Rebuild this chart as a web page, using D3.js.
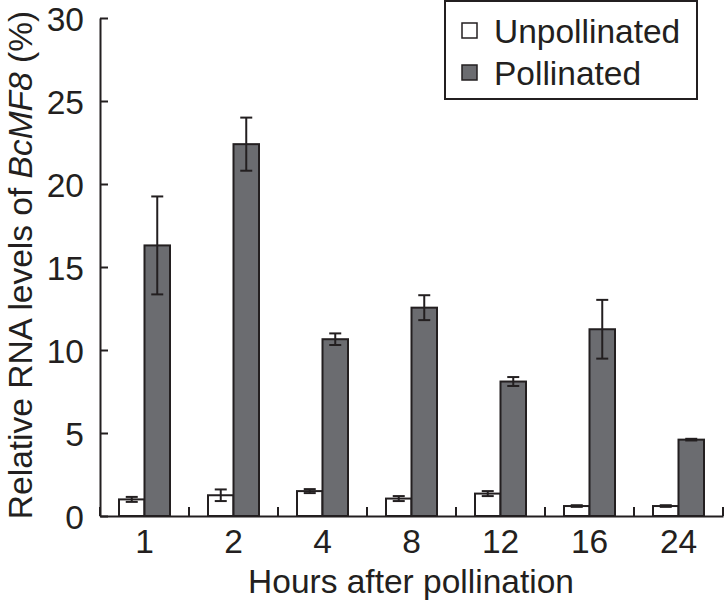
<!DOCTYPE html>
<html><head><meta charset="utf-8">
<script src="https://cdn.jsdelivr.net/npm/d3@7"></script>
<style>body{margin:0;background:#fff}svg{display:block}text{font-family:"Liberation Sans",Arial,Helvetica,sans-serif;fill:#231f20}</style>
</head><body><svg id="c" width="724" height="601"></svg>
<script>
const categories = ["1","2","4","8","12","16","24"];
const unpollinated = [1.0, 1.25, 1.5, 1.05, 1.35, 0.6, 0.6];
const unpollinatedErr = [0.15, 0.35, 0.12, 0.15, 0.15, 0.05, 0.05];
const pollinated = [16.3, 22.4, 10.65, 12.55, 8.1, 11.25, 4.6];
const pollinatedErr = [2.95, 1.6, 0.35, 0.75, 0.27, 1.77, 0.05];
const yTicks = [0,5,10,15,20,25,30];
const seriesNames = ["Unpollinated","Pollinated"];
const seriesColors = ["#ffffff","#6b6c70"];
const ink = "#231f20";
const fs = 33.5;

const svg = d3.select("#c");
const x = d3.scaleBand().domain(categories).range([100, 723]).padding(0);
const y = d3.scaleLinear().domain([0,30]).range([516, 18]);
const barW = 25.5;

// bars
const data = [];
categories.forEach((c,i)=>{
  data.push({c, s:0, v:unpollinated[i], e:unpollinatedErr[i]});
  data.push({c, s:1, v:pollinated[i], e:pollinatedErr[i]});
});
const bx = d => x(d.c) + x.bandwidth()/2 + (d.s===0 ? -barW : 0);
svg.selectAll("rect.bar").data(data).join("rect").attr("class","bar")
  .attr("x", bx).attr("width", barW)
  .attr("y", d=>y(d.v)).attr("height", d=>y(0)-y(d.v))
  .attr("fill", d=>seriesColors[d.s]).attr("stroke", ink).attr("stroke-width", 2);

// error bars
const eg = svg.append("g").attr("stroke", ink).attr("stroke-width", 2).attr("fill","none");
data.forEach(d=>{
  const cx = bx(d) + barW/2;
  const capW = 12;
  eg.append("line").attr("x1",cx).attr("x2",cx).attr("y1",y(d.v+d.e)).attr("y2",y(d.v-d.e));
  eg.append("line").attr("x1",cx-capW/2).attr("x2",cx+capW/2).attr("y1",y(d.v+d.e)).attr("y2",y(d.v+d.e));
  eg.append("line").attr("x1",cx-capW/2).attr("x2",cx+capW/2).attr("y1",y(d.v-d.e)).attr("y2",y(d.v-d.e));
});

// y axis
const yAxis = d3.axisLeft(y).tickValues(yTicks).tickSizeInner(-8).tickSizeOuter(0).tickPadding(16);
const gy = svg.append("g").attr("transform","translate(100,0)").call(yAxis);
gy.select(".domain").attr("stroke", ink).attr("stroke-width",2);
gy.selectAll(".tick line").attr("stroke", ink).attr("stroke-width",2);
gy.selectAll(".tick text").attr("font-size",fs).attr("fill",ink).attr("dy","0.36em");

// x axis
const xAxis = d3.axisBottom(x).tickSize(0).tickPadding(13);
const gx = svg.append("g").attr("transform","translate(0,516)").call(xAxis);
gx.select(".domain").attr("stroke", ink).attr("stroke-width",2);
gx.selectAll(".tick text").attr("font-size",fs).attr("fill",ink);
// separator ticks at group boundaries
const bounds = categories.map(c=>x(c)).concat([x.range()[1]]);
gx.selectAll("line.sep").data(bounds).join("line").attr("class","sep")
  .attr("x1",d=>d).attr("x2",d=>d).attr("y1",0).attr("y2",-9)
  .attr("stroke",ink).attr("stroke-width",2);

// axis titles
svg.append("text").attr("x", 411).attr("y", 593).attr("text-anchor","middle")
  .attr("font-size",fs).text("Hours after pollination");
const yt = svg.append("text").attr("transform","translate(32,265) rotate(-90)")
  .attr("text-anchor","middle").attr("font-size",fs);
yt.append("tspan").text("Relative RNA levels of ");
yt.append("tspan").attr("font-style","italic").text("BcMF8");
yt.append("tspan").text(" (%)");

// legend
const lg = svg.append("g");
lg.append("rect").attr("x",445).attr("y",1).attr("width",252).attr("height",98)
  .attr("fill","#fff").attr("stroke",ink).attr("stroke-width",2);
seriesNames.forEach((n,i)=>{
  const yy = 31 + i*42;
  lg.append("rect").attr("x",462).attr("y",yy-8).attr("width",15).attr("height",15)
    .attr("fill",seriesColors[i]).attr("stroke",ink).attr("stroke-width",1.5);
  lg.append("text").attr("x",494).attr("y",yy).attr("dy","0.36em").attr("font-size",fs).text(n);
});
</script></body></html>
